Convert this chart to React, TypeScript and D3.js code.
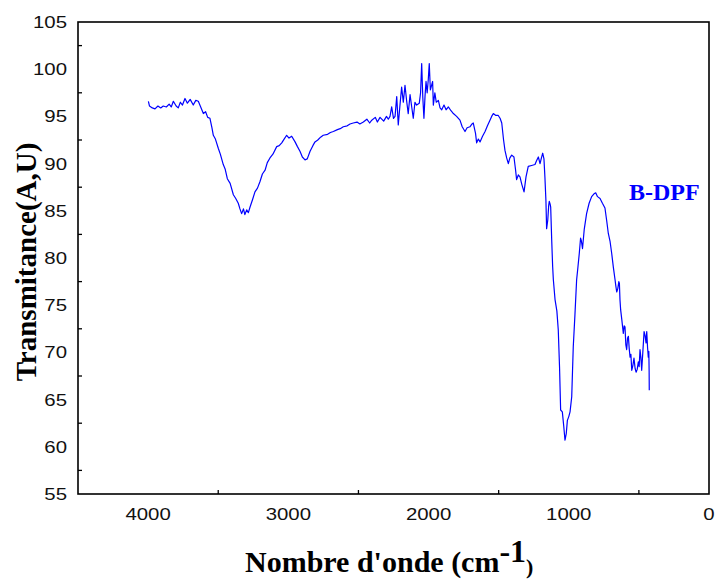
import React from "react";
import * as d3 from "d3";

// spectrum: wavenumber (cm-1) and transmittance
const wavenumbers = [
  3998, 3990, 3970, 3951, 3930, 3910, 3892, 3870, 3850, 3835, 3820, 3800, 3785, 3770, 3755, 3737,
  3720, 3700, 3678, 3660, 3642, 3625, 3606, 3590, 3575, 3559, 3545, 3535, 3520, 3499, 3485, 3464,
  3450, 3435, 3415, 3392, 3375, 3357, 3345, 3333, 3320, 3310, 3297, 3285, 3273, 3255, 3238, 3220,
  3202, 3185, 3166, 3150, 3131, 3110, 3083, 3065, 3047, 3030, 3012, 2995, 2976, 2952, 2935, 2917,
  2900, 2881, 2865, 2845, 2825, 2810, 2790, 2770, 2751, 2720, 2700, 2679, 2650, 2630, 2608, 2580,
  2560, 2537, 2510, 2490, 2465, 2440, 2420, 2405, 2380, 2365, 2346, 2320, 2300, 2287, 2275, 2263,
  2250, 2239, 2227, 2216, 2205, 2192, 2180, 2168, 2156, 2145, 2132, 2120, 2109, 2097, 2085, 2066,
  2057, 2049, 2041, 2033, 2025, 2018, 2010, 2002, 1995, 1987, 1971, 1966, 1955, 1945, 1930, 1918,
  1906, 1890, 1875, 1859, 1840, 1823, 1800, 1776, 1760, 1740, 1725, 1705, 1690, 1681, 1665, 1657,
  1645, 1633, 1615, 1597, 1580, 1562, 1550, 1538, 1520, 1503, 1490, 1478, 1465, 1455, 1443, 1431,
  1420, 1407, 1391, 1380, 1372, 1360, 1348, 1335, 1319, 1305, 1289, 1265, 1241, 1230, 1217, 1205,
  1195, 1186, 1177, 1170, 1163, 1158, 1150, 1143, 1139, 1133, 1129, 1122, 1115, 1110, 1098, 1085,
  1075, 1066, 1058, 1046, 1036, 1027, 1018, 1010, 1000, 991, 979, 968, 956, 944, 935, 925,
  916, 910, 902, 890, 873, 855, 837, 820, 808, 795, 777, 760, 742, 730, 718, 706,
  694, 682, 670, 664, 658, 650, 643, 639, 635, 630, 622, 611, 605, 599, 593, 587,
  581, 575, 569, 563, 557, 551, 543, 535, 527, 520, 512, 504, 498, 492, 486, 480,
  472, 463, 456, 449, 444, 438, 433, 429, 427, 426,
];
const transmittance = [
  96.6, 96.1, 95.9, 95.8, 96.1, 95.9, 96.1, 96.0, 96.3, 96.0, 96.6, 96.1, 95.9, 96.5, 96.2, 96.9,
  96.4, 96.8, 96.2, 96.7, 96.6, 96.0, 95.3, 95.5, 94.9, 94.8, 93.8, 93.0, 92.6, 91.6, 91.0, 89.9,
  89.4, 88.4, 87.9, 86.7, 86.3, 85.8, 85.2, 84.7, 85.2, 84.6, 85.1, 84.8, 85.4, 86.2, 87.0, 87.4,
  88.1, 88.9, 89.3, 90.1, 90.6, 91.0, 91.8, 91.9, 92.2, 92.6, 93.0, 92.7, 92.9, 92.3, 91.8, 91.3,
  90.7, 90.4, 90.5, 91.3, 91.9, 92.3, 92.5, 92.8, 93.0, 93.1, 93.3, 93.4, 93.6, 93.7, 93.9, 94.0,
  94.2, 94.3, 94.4, 94.2, 94.4, 94.7, 94.3, 94.6, 94.9, 94.4, 94.9, 94.5, 95.0, 94.7, 95.0, 96.0,
  94.8, 95.0, 97.1, 94.1, 96.0, 98.1, 96.5, 98.3, 96.6, 95.3, 97.3, 96.0, 94.8, 96.5, 96.2, 96.4,
  97.5, 100.6, 97.0, 94.8, 97.2, 98.7, 97.5, 98.9, 100.6, 97.8, 98.7, 96.2, 97.5, 96.5, 96.7, 95.9,
  95.7, 96.2, 95.7, 96.0, 95.6, 95.3, 95.0, 94.6, 93.9, 93.4, 93.8, 93.9, 94.2, 94.3, 93.2, 92.2,
  92.6, 92.3, 92.9, 93.4, 94.0, 94.6, 95.0, 95.3, 95.1, 95.1, 94.8, 94.3, 92.5, 91.4, 90.6, 90.0,
  90.6, 90.9, 90.7, 89.4, 88.3, 88.8, 88.6, 87.8, 87.0, 88.6, 89.7, 89.8, 89.9, 90.3, 90.7, 90.0,
  90.6, 91.1, 90.5, 88.5, 86.1, 83.1, 84.0, 85.6, 86.0, 85.7, 85.4, 82.0, 79.1, 77.7, 75.6, 74.4,
  72.4, 68.5, 63.9, 63.7, 62.2, 60.7, 61.4, 62.8, 63.2, 63.7, 65.3, 70.6, 74.0, 77.7, 79.0, 80.5,
  82.1, 81.8, 81.0, 83.0, 84.7, 85.8, 86.5, 86.8, 86.9, 86.5, 86.3, 85.8, 85.3, 84.0, 82.6, 81.8,
  80.5, 79.0, 77.7, 77.0, 76.4, 76.8, 77.5, 77.3, 75.6, 74.5, 73.5, 72.0, 72.8, 72.7, 70.8, 70.3,
  71.5, 71.7, 70.4, 69.5, 69.8, 68.1, 68.6, 69.4, 68.3, 67.9, 68.2, 69.0, 68.5, 70.3, 69.5, 68.1,
  70.0, 72.2, 71.8, 71.0, 72.2, 70.5, 69.5, 70.1, 68.0, 66.0,
];
const xLabels = [4000, 3000, 2000, 1000, 0];
const xMinorTicks = [3500, 2500, 1500, 500];
const yLabels = [105, 100, 95, 90, 85, 80, 75, 70, 65, 60, 55];
const yMinorTicks = [102.5, 97.5, 92.5, 87.5, 82.5, 77.5, 72.5, 67.5, 62.5, 57.5];
const seriesName = "B-DPF";

const left = 78;
const right = 709;
const top = 22;
const bottom = 494;

export default function App() {
  const x = d3.scaleLinear().domain([4500, 0]).range([left, right]);
  const y = d3.scaleLinear().domain([55, 105]).range([bottom, top]);

  const points = wavenumbers.map((w, i) => [w, transmittance[i]] as [number, number]);
  const line = d3
    .line<[number, number]>()
    .x((d) => x(d[0]))
    .y((d) => y(d[1]));

  const tickFont = "'Liberation Sans', Arial, sans-serif";
  const titleFont = "'Liberation Serif', 'Times New Roman', serif";

  return (
    <svg
      width={715}
      height={581}
      style={{ position: "absolute", left: 0, top: 0, background: "#fff" }}
    >
      <path d={line(points) || ""} fill="none" stroke="#0000ff" strokeWidth={1.2} strokeLinejoin="round" />

      {/* frame */}
      <rect x={left} y={top} width={right - left} height={bottom - top} fill="none" stroke="#000" strokeWidth={1.6} />

      {xMinorTicks.map((t) => (
        <line key={"xt" + t} x1={x(t)} x2={x(t)} y1={bottom} y2={bottom - 4} stroke="#000" strokeWidth={1.3} />
      ))}
      {yMinorTicks.map((t) => (
        <line key={"yt" + t} x1={left} x2={left + 4} y1={y(t)} y2={y(t)} stroke="#000" strokeWidth={1.3} />
      ))}

      {xLabels.map((t) => (
        <g key={"xl" + t} transform={`translate(${x(t)},520)`}>
          <text textAnchor="middle" fontFamily={tickFont} fontSize={17} transform="scale(1.2,1)" fill="#111">
            {t}
          </text>
        </g>
      ))}
      {yLabels.map((t) => (
        <g key={"yl" + t} transform={`translate(67,${y(t) + 6})`}>
          <text textAnchor="end" fontFamily={tickFont} fontSize={17} transform="scale(1.2,1)" fill="#111">
            {t}
          </text>
        </g>
      ))}

      <text
        transform="translate(36,262) rotate(-90)"
        textAnchor="middle"
        fontFamily={titleFont}
        fontWeight="bold"
        fontSize={29}
      >
        Transmitance(A,U)
      </text>

      <text x={245} y={572} fontFamily={titleFont} fontWeight="bold" fontSize={30}>
        Nombre d'onde (cm
        <tspan dy={-10} fontSize={32}>-1</tspan>
        <tspan dy={12} fontSize={22}>)</tspan>
      </text>

      <text x={629} y={200} fontFamily={titleFont} fontWeight="bold" fontSize={24} fill="#0000ff">
        {seriesName}
      </text>
    </svg>
  );
}
